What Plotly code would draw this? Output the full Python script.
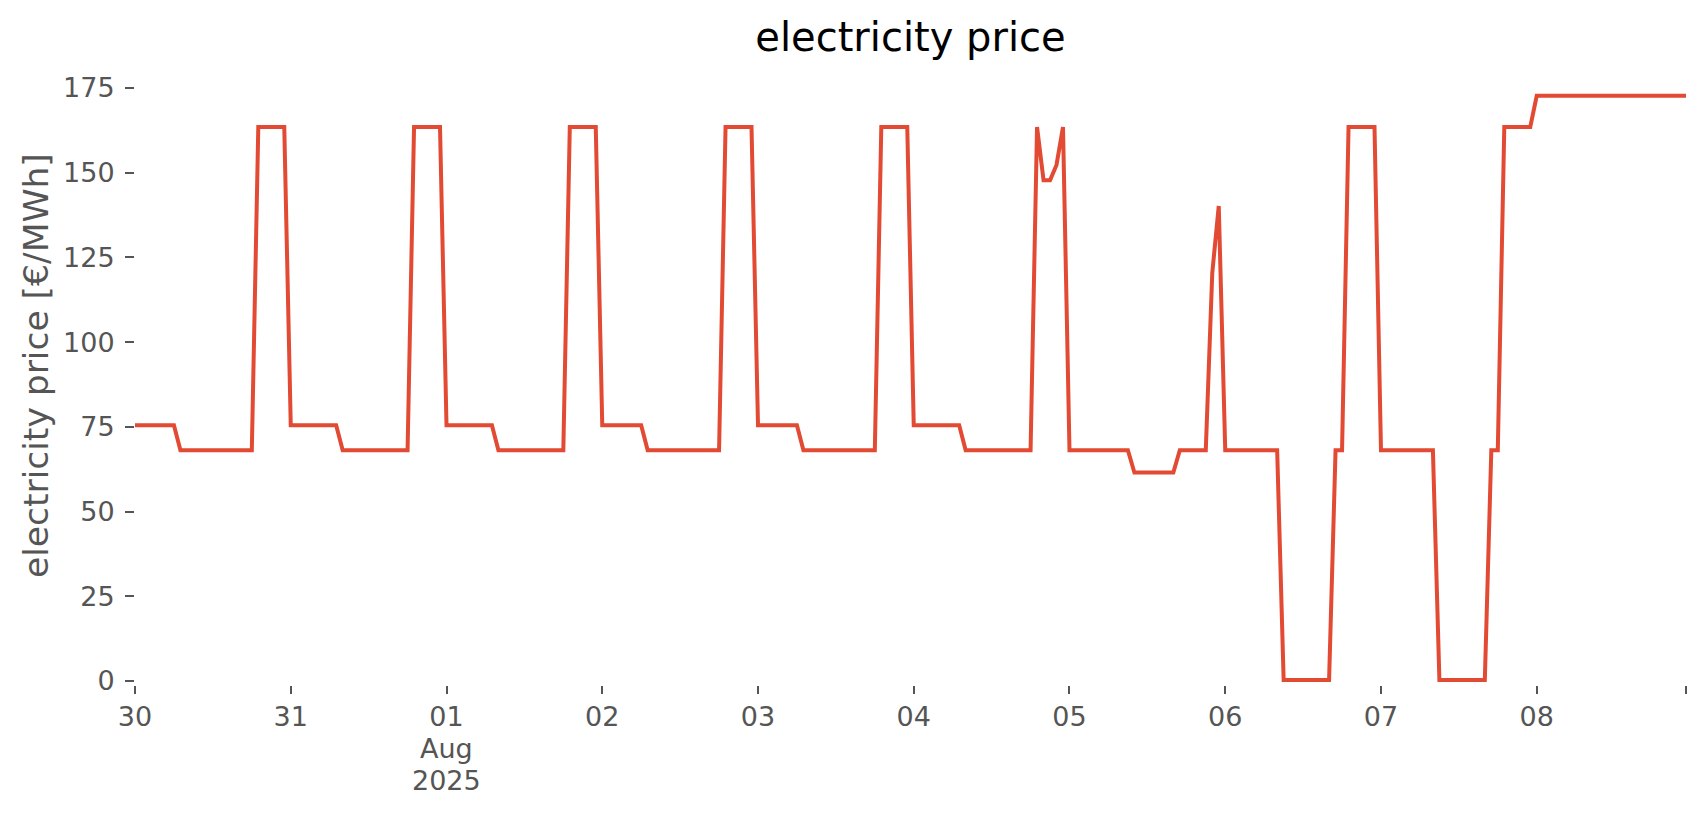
import pandas as pd
import plotly.graph_objects as go

# Hourly electricity price [€/MWh], one list per day (00:00 ... 23:00)
jul30 = [75.5]*7 + [68.1]*12 + [163.5]*5
jul31 = [75.5]*8 + [68.1]*11 + [163.5]*5
aug01 = [75.5]*8 + [68.1]*11 + [163.5]*5
aug02 = [75.5]*7 + [68.1]*12 + [163.5]*5
aug03 = [75.5]*7 + [68.1]*12 + [163.5]*5
aug04 = [75.5]*8 + [68.1]*11 + [163.5, 147.8, 147.8, 152.3, 163.5]
aug05 = [68.1]*10 + [61.5]*7 + [68.1]*5 + [120.4, 140.2]
aug06 = [68.1]*9 + [0.3]*8 + [68.1]*2 + [163.5]*5
aug07 = [68.1]*9 + [0.3]*8 + [68.1]*2 + [163.5]*5
aug08 = [172.7]*24

prices = jul30 + jul31 + aug01 + aug02 + aug03 + aug04 + aug05 + aug06 + aug07 + aug08
times = pd.date_range("2025-07-30 00:00", periods=len(prices), freq="h")

tick_vals = ["2025-07-30", "2025-07-31", "2025-08-01", "2025-08-02", "2025-08-03",
             "2025-08-04", "2025-08-05", "2025-08-06", "2025-08-07", "2025-08-08",
             "2025-08-08 23:00"]
tick_text = ["30", "31", "01", "02", "03", "04", "05", "06", "07", "08", ""]
sub_labels = ["Aug", "2025"]
y_ticks = [0, 25, 50, 75, 100, 125, 150, 175]

FONT = "DejaVu Sans"
GREY = "#555555"

fig = go.Figure()
fig.add_trace(go.Scatter(x=times, y=prices, mode="lines",
                         line=dict(color="#E24A33", width=4), showlegend=False))

# page has an 8px body margin; figure coords = page coords - 8
W, H = 1690, 799
L, R, T, B = 127, 12, 59, 122
PW, PH = W - L - R, H - T - B

def px_x(x):  # page x -> paper
    return (x - 8 - L) / PW

def px_y(y):  # page y -> paper
    return 1 - (y - 8 - T) / PH

annotations = [dict(text="electricity price [€/MWh]", textangle=-90,
                    xref="paper", yref="paper", x=px_x(36), y=px_y(366),
                    xanchor="center", yanchor="middle", showarrow=False,
                    font=dict(family=FONT, size=34.5, color=GREY))]
for i, lab in enumerate(sub_labels):
    annotations.append(dict(text=lab, xref="x", yref="paper", x="2025-08-01",
                            y=px_y(748 + i * 32), xanchor="center", yanchor="middle",
                            showarrow=False,
                            font=dict(family=FONT, size=27, color=GREY)))

fig.update_layout(
    width=W, height=H,
    margin=dict(l=L, r=R, t=T, b=B),
    paper_bgcolor="white", plot_bgcolor="white",
    font=dict(family=FONT, size=27, color=GREY),
    title=dict(text="electricity price", x=0.5, xref="paper", xanchor="center",
               y=1 - 15/H, yanchor="top", yref="container",
               font=dict(family=FONT, size=40, color="black")),
    xaxis=dict(range=[times[0], times[-1]], tickmode="array", tickvals=tick_vals,
               ticktext=tick_text, ticks="outside", ticklen=8, tickwidth=2,
               tickcolor=GREY, showgrid=False, zeroline=False, showline=False,
               tickfont=dict(family=FONT, size=27, color=GREY)),
    yaxis=dict(range=[-1.18, 181.2], tickmode="array", tickvals=y_ticks,
               ticks="outside", ticklen=9, tickwidth=2, tickcolor=GREY,
               ticklabelstandoff=5,
               showgrid=False, zeroline=False, showline=False,
               tickfont=dict(family=FONT, size=27, color=GREY)),
    annotations=annotations,
)

fig.write_html("out.html")
